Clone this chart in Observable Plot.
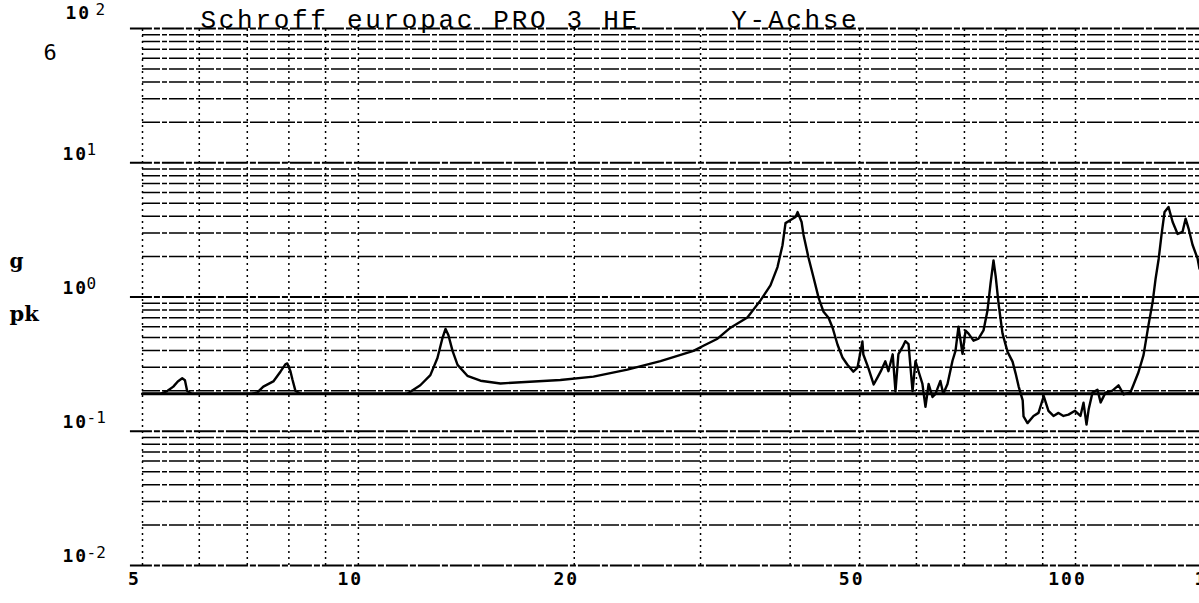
<!DOCTYPE html>
<html>
<head>
<meta charset="utf-8">
<script src="https://cdn.jsdelivr.net/npm/d3@7"></script>
<script src="https://cdn.jsdelivr.net/npm/@observablehq/plot@0.6"></script>
<style>
  html, body { margin: 0; padding: 0; background: #fff; overflow: hidden; }
</style>
</head>
<body>
<div id="chart"></div>
<script>
// ---------- texts ----------
const title = "Schroff europac PRO 3 HE     Y-Achse";
const unitTop = "g";
const unitBottom = "pk";
const cornerLabel = "6";

// ---------- axes ----------
const xTicks = [5, 10, 20, 50, 100];
const xTickLabels = ["5", "10", "20", "50", "100"];
const xEdgeTick = [150];
const xEdgeTickLabel = ["150"];
const xGrid = [5, 6, 7, 8, 9, 10, 20, 30, 40, 50, 60, 70, 80, 90, 100];
const yDecades = [0.01, 0.1, 1, 10];
const yTopDecade = [100];
const yBase = "10";
const yExponents = ["-2", "-1", "0", "1"];
const yTopExponent = ["2"];
const yMinor = [0.02, 0.03, 0.04, 0.05, 0.06, 0.07, 0.08, 0.09,
                0.2, 0.3, 0.4, 0.5, 0.6, 0.7, 0.8, 0.9,
                2, 3, 4, 5, 6, 7, 8, 9,
                20, 30, 40, 50, 60, 70, 80, 90];
const yMajorAll = [0.01, 0.1, 1, 10, 100];

// ---------- series: control level (g pk) ----------
const controlFreq = [5, 148.9];
const controlLevel = [0.19, 0.19];

// ---------- series: response (g pk) ----------
const freq = [5.00, 5.30, 5.42, 5.52, 5.60, 5.68, 5.73, 5.77, 5.85,
  7.10, 7.23, 7.37, 7.61, 7.79, 7.91, 7.96, 8.04, 8.09, 8.17, 8.30,
  11.7, 12.2, 12.6, 12.89, 13.10, 13.23, 13.35, 13.53, 13.75, 14.19, 14.80, 15.78,
  19.13, 21.27, 23.72, 26.38, 29.33, 30.28, 31.68, 33.03, 34.87, 36.37, 37.55,
  38.41, 39.03, 39.41, 40.05, 40.70, 40.97, 41.50, 41.76, 42.44, 43.13, 43.83,
  44.53, 45.25, 45.84, 46.58, 47.32, 48.08, 49.0, 49.66, 50.45, 50.6, 51.4,
  52.3, 52.96, 53.5, 54.3, 54.84, 55.6, 56.1, 56.63, 57.37, 57.9, 58.5, 59.26,
  59.82, 60.39, 61.17, 61.77, 62.4, 63.18, 63.79, 64.8, 65.4, 66.3, 67.37,
  68.02, 68.68, 69.57, 70.25, 70.93, 72.07, 73.24, 74.42, 75.38, 76.12, 76.85,
  77.4, 78.1, 79.1, 80.4, 81.7, 82.5, 83.3, 84.4, 84.63, 85.71, 87.39, 88.8,
  90.3, 91.68, 93.17, 94.69, 96.2, 97.77, 99.85, 101.6, 102.6, 103.6, 104.3,
  105.6, 107.3, 108.4, 110.1, 112.6, 114.8, 116.7, 119.3, 120.4, 122.4, 124.4,
  126.4, 128.1, 129.3, 130.6, 131.8, 133.1, 134.8, 136.6, 138.8, 141.0, 142.4,
  143.8, 145.6, 148.0, 148.9];
const accel = [0.19, 0.19, 0.20, 0.215, 0.235, 0.248, 0.24, 0.20, 0.19,
  0.19, 0.195, 0.215, 0.235, 0.279, 0.315, 0.32, 0.28, 0.244, 0.20, 0.19,
  0.19, 0.22, 0.262, 0.351, 0.495, 0.578, 0.521, 0.397, 0.312, 0.259, 0.238, 0.227,
  0.241, 0.255, 0.288, 0.333, 0.397, 0.433, 0.489, 0.591, 0.703, 0.944, 1.22,
  1.67, 2.43, 3.55, 3.74, 3.94, 4.29, 3.62, 2.90, 1.95, 1.39, 0.985,
  0.776, 0.70, 0.59, 0.441, 0.354, 0.313, 0.278, 0.298, 0.466, 0.373, 0.298,
  0.223, 0.252, 0.279, 0.332, 0.28, 0.374, 0.198, 0.375, 0.423, 0.469, 0.446, 0.199,
  0.333, 0.281, 0.225, 0.152, 0.225, 0.18, 0.19, 0.237, 0.19, 0.225, 0.335,
  0.397, 0.601, 0.378, 0.561, 0.534, 0.473, 0.49, 0.563, 0.794, 1.26, 1.87,
  1.42, 0.896, 0.536, 0.39, 0.33, 0.27, 0.216, 0.17, 0.129, 0.115, 0.13, 0.137,
  0.183, 0.142, 0.13, 0.137, 0.13, 0.133, 0.142, 0.13, 0.163, 0.112, 0.145,
  0.194, 0.204, 0.164, 0.194, 0.201, 0.22, 0.188, 0.195, 0.22, 0.275, 0.369,
  0.617, 0.916, 1.36, 1.92, 2.90, 4.30, 4.68, 3.62, 2.95, 3.06, 3.83,
  3.22, 2.45, 1.93, 1.62];

// ---------- build tables ----------
const response = freq.map((f, i) => ({f, g: accel[i]}));
const control = controlFreq.map((f, i) => ({f, g: controlLevel[i]}));

const labelFont = "DejaVu Sans Mono";
const ink = "#000";

const chart = Plot.plot({
  width: 1199,
  height: 603,
  marginLeft: 142,
  marginRight: 0,
  marginTop: 28,
  marginBottom: 38,
  x: {type: "log", domain: [5, 148.9], axis: null},
  y: {type: "log", domain: [0.01, 100], axis: null},
  style: {background: "#fff", color: ink, fontFamily: labelFont},
  marks: [
    // horizontal grid (minor)
    Plot.ruleY(yMinor, {stroke: ink, strokeWidth: 1.5, strokeDasharray: "18,2,5,2"}),
    // horizontal grid (decades) extending left of the frame
    Plot.ruleY(yMajorAll, {x1: 4.81, x2: 148.9, stroke: ink, strokeWidth: 1.8, strokeDasharray: "22,2,6,2"}),
    // vertical grid
    Plot.ruleX(xGrid, {y1: 0.01, y2: 100, stroke: ink, strokeWidth: 1.5, strokeDasharray: "2,4"}),
    // control level
    Plot.line(control, {x: "f", y: "g", stroke: ink, strokeWidth: 3}),
    // response
    Plot.line(response, {x: "f", y: "g", stroke: ink, strokeWidth: 2.4, strokeLinejoin: "round"}),
    // x tick labels
    Plot.text(xTicks, {x: d => d, frameAnchor: "bottom", dy: 19, dx: -8,
      text: (d, i) => xTickLabels[i], fontWeight: "bold", fontSize: 18, fill: ink}),
    Plot.text(xEdgeTick, {x: d => d, frameAnchor: "bottom", dy: 19, dx: 12,
      text: (d, i) => xEdgeTickLabel[i], fontWeight: "bold", fontSize: 18, fill: ink}),
    // y tick labels: base
    Plot.text(yDecades, {y: d => d, frameAnchor: "left", dx: -80, dy: -9, textAnchor: "start",
      text: () => yBase, fontWeight: "bold", fontSize: 18, fill: ink}),
    Plot.text(yTopDecade, {y: d => d, frameAnchor: "left", dx: -77, dy: -15, textAnchor: "start",
      text: () => yBase, fontWeight: "bold", fontSize: 18, fill: ink}),
    // y tick labels: exponent
    Plot.text(yDecades, {y: d => d, frameAnchor: "left", dx: -56, dy: -13, textAnchor: "start",
      text: (d, i) => yExponents[i], fontSize: 16, fill: ink}),
    Plot.text(yTopDecade, {y: d => d, frameAnchor: "left", dx: -47, dy: -19, textAnchor: "start",
      text: (d, i) => yTopExponent[i], fontSize: 16, fill: ink}),
    // corner "6"
    Plot.text([cornerLabel], {frameAnchor: "top-left", dx: -99, dy: 16, textAnchor: "start",
      text: d => d, fontSize: 22, fill: ink}),
    // unit labels
    Plot.text([unitTop], {frameAnchor: "top-left", dx: -133, dy: 225, textAnchor: "start",
      text: d => d, fontSize: 20, fontWeight: "bold", fontFamily: "DejaVu Serif", fill: ink}),
    Plot.text([unitBottom], {frameAnchor: "top-left", dx: -133, dy: 278, textAnchor: "start",
      text: d => d, fontSize: 21, fontWeight: "bold", fontFamily: "DejaVu Serif", fill: ink}),
    // title
    Plot.text([title], {frameAnchor: "top-left", dx: 58, dy: -19, textAnchor: "start",
      text: d => d, fontSize: 26, fontFamily: "Liberation Mono", fill: ink})
  ]
});

// letter spacing to match the wide plotter lettering
d3.select(chart).selectAll("text").each(function () {
  const t = this.textContent;
  if (t === title) this.setAttribute("letter-spacing", "2.7");
  else if (xTickLabels.includes(t) || xEdgeTickLabel.includes(t)) this.setAttribute("letter-spacing", "2");
  else if (t === yBase) this.setAttribute("letter-spacing", "1");
});

document.getElementById("chart").appendChild(chart);
</script>
</body>
</html>
